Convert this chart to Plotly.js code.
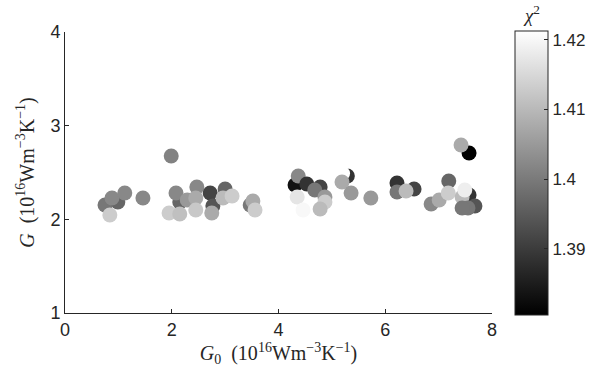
<!DOCTYPE html>
<html>
<head>
<meta charset="utf-8">
<script src="https://cdn.plot.ly/plotly-3.0.1.min.js"></script>
<style>html,body{margin:0;padding:0;background:#fff;}#chart{width:594px;height:384px;}</style>
</head>
<body>
<div id="chart"></div>
<script>
// G0 values (10^16 W m^-3 K^-1)
const g0 = [0.75, 0.99, 0.88, 1.12, 0.84, 1.46, 1.99, 2.15, 2.08, 2.29, 1.95, 2.15,
  2.47, 2.45, 2.72, 2.77, 2.45, 2.75, 3.00, 2.96, 3.13, 3.47, 3.52, 3.56,
  4.31, 4.37, 4.53, 4.78, 4.68, 4.35, 4.87, 4.87, 4.46, 4.78,
  5.29, 5.20, 5.19, 5.36, 5.73,
  6.22, 6.54, 6.22, 6.39, 6.86, 7.01, 7.19, 7.18, 7.57, 7.44, 7.49, 7.68, 7.55, 7.44,
  7.57, 7.42];
// G values
const gFit = [2.153, 2.185, 2.228, 2.281, 2.046, 2.228, 2.676, 2.185, 2.281, 2.207, 2.068, 2.057,
  2.345, 2.228, 2.281, 2.142, 2.100, 2.068, 2.324, 2.228, 2.249, 2.153, 2.196, 2.100,
  2.367, 2.463, 2.377, 2.345, 2.313, 2.238, 2.238, 2.185, 2.100, 2.110,
  2.463, 2.490, 2.399, 2.281, 2.228,
  2.388, 2.324, 2.292, 2.303, 2.164, 2.206, 2.409, 2.281, 2.260, 2.238, 2.313, 2.142, 2.121, 2.121,
  2.708, 2.794];
// chi^2 values
const chi2 = [1.3996, 1.3969, 1.4023, 1.4023, 1.4132, 1.4023, 1.4013, 1.3969, 1.4023, 1.4050, 1.4132, 1.4112,
  1.4023, 1.4077, 1.3915, 1.3942, 1.4126, 1.4077, 1.3969, 1.4104, 1.4132, 1.3996, 1.4077, 1.4132,
  1.3833, 1.4023, 1.3887, 1.3915, 1.3996, 1.4172, 1.4050, 1.4132, 1.4202, 1.4104,
  1.3887, 1.4213, 1.4077, 1.4050, 1.4050,
  1.3887, 1.3915, 1.3996, 1.4104, 1.4023, 1.4077, 1.3969, 1.4132, 1.3887, 1.4104, 1.4186, 1.3942, 1.3996, 1.3996,
  1.3806, 1.4077];
const cbTicks = [1.39, 1.40, 1.41, 1.42];
const cbLabels = ['1.39', '1.4', '1.41', '1.42'];
const xTicks = [0, 2, 4, 6, 8];
const yTicks = [1, 2, 3, 4];

const axisColor = '#262626';
const trace = {
  type: 'scatter', mode: 'markers', x: g0, y: gFit,
  marker: {
    size: 15, color: chi2, cmin: 1.3806, cmax: 1.4213,
    colorscale: [[0, '#000000'], [1, '#ffffff']],
    line: {width: 0}, opacity: 1,
    colorbar: {
      x: 1.054, xanchor: 'left', xref: 'paper', y: 0.5, yanchor: 'middle',
      len: 1.01, lenmode: 'fraction', thickness: 33, thicknessmode: 'pixels',
      xpad: 0, ypad: 0, outlinewidth: 1, outlinecolor: axisColor,
      ticks: 'inside', ticklen: 4, tickcolor: axisColor,
      tickvals: cbTicks, ticktext: cbLabels,
      tickfont: {family: 'Liberation Sans, Arial, sans-serif', size: 17, color: axisColor}
    }
  },
  showlegend: false, hoverinfo: 'none'
};

const layout = {
  width: 594, height: 384,
  margin: {l: 65, r: 102, t: 32, b: 71, autoexpand: false},
  paper_bgcolor: '#ffffff', plot_bgcolor: '#ffffff',
  xaxis: {
    range: [0, 8], tickvals: xTicks, ticks: 'inside', ticklen: 4, tickcolor: axisColor,
    showline: true, linecolor: axisColor, linewidth: 1, showgrid: false, zeroline: false,
    mirror: false, automargin: false,
    tickfont: {family: 'Liberation Sans, Arial, sans-serif', size: 18, color: axisColor},
    title: {text: '<i>G</i><sub>0</sub>  (10<sup>16</sup>Wm<sup>−3</sup>K<sup>−1</sup>)', standoff: 4,
      font: {family: 'Liberation Serif, serif', size: 20, color: axisColor}}
  },
  yaxis: {
    range: [1, 4], tickvals: yTicks, ticks: 'inside', ticklen: 4, tickcolor: axisColor,
    showline: true, linecolor: axisColor, linewidth: 1, showgrid: false, zeroline: false,
    automargin: false,
    tickfont: {family: 'Liberation Sans, Arial, sans-serif', size: 18, color: axisColor},
    title: {text: '<i>G</i>  (10<sup>16</sup>Wm<sup>−3</sup>K<sup>−1</sup>)', standoff: 10,
      font: {family: 'Liberation Serif, serif', size: 20, color: axisColor}}
  },
  annotations: [{
    text: '<i>χ</i><sup>2</sup>', xref: 'paper', yref: 'paper', x: 1.093, y: 1.015,
    xanchor: 'center', yanchor: 'bottom', showarrow: false,
    font: {family: 'Liberation Serif, serif', size: 19, color: axisColor}
  }]
};

Plotly.newPlot('chart', [trace], layout, {displayModeBar: false, staticPlot: true});
</script>
</body>
</html>
